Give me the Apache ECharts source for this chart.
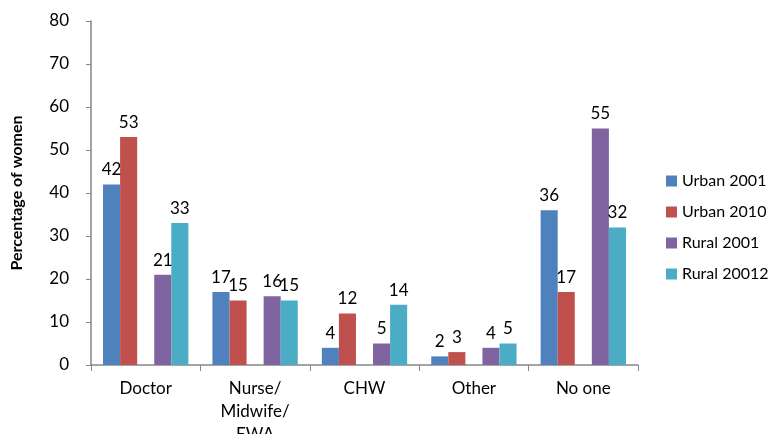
<!DOCTYPE html>
<html>
<head>
<meta charset="utf-8">
<script src="https://cdn.jsdelivr.net/npm/echarts@6/dist/echarts.min.js"></script>
<style>
html, body { margin: 0; padding: 0; background: #fff; overflow: hidden; }
#chart { width: 769px; height: 434px; }
</style>
</head>
<body>
<div id="chart"></div>
<script>
// categories and values
var categories = ['Doctor', 'Nurse/\nMidwife/\nEWA', 'CHW', 'Other', 'No one'];
var urban2001 = [42, 17, 4, 2, 36];
var urban2010 = [53, 15, 12, 3, 17];
var rural2001 = [21, 16, 5, 4, 55];
var rural20012 = [33, 15, 14, 5, 32];
var yTicks = [0, 10, 20, 30, 40, 50, 60, 70, 80];

var font = 'Lato';
var axisColor = '#868686';

var myChart = echarts.init(document.getElementById('chart'));

function barSeries(name, data, color) {
    return {
        name: name,
        type: 'bar',
        data: data,
        barGap: '0%',
        barCategoryGap: '22%',
        itemStyle: { color: color },
        label: {
            show: true,
            position: 'top',
            distance: 6,
            color: '#000',
            fontFamily: font,
            fontSize: 17
        }
    };
}

var option = {
    animation: false,
    textStyle: { fontFamily: font },
    grid: { left: 91, right: 131, top: 21, bottom: 69, containLabel: false, outerBoundsMode: 'none' },
    legend: {
        orient: 'vertical',
        left: 661,
        top: 168,
        itemWidth: 11,
        itemHeight: 11,
        itemGap: 15,
        icon: 'rect',
        data: ['Urban 2001', 'Urban 2010', 'Rural 2001', 'Rural 20012'],
        textStyle: { fontFamily: font, fontSize: 16, color: '#000' }
    },
    xAxis: {
        type: 'category',
        data: categories,
        axisLine: { lineStyle: { color: axisColor, width: 1.5 } },
        axisTick: { show: true, length: 6, lineStyle: { color: axisColor } },
        axisLabel: {
            color: '#000',
            fontFamily: font,
            fontSize: 17,
            margin: 12,
            lineHeight: 23,
            interval: 0,
            hideOverlap: false
        }
    },
    yAxis: {
        type: 'value',
        min: yTicks[0],
        max: yTicks[yTicks.length - 1],
        interval: 10,
        name: 'Percentage of women',
        nameLocation: 'middle',
        nameGap: 66,
        nameTextStyle: { fontFamily: font, fontSize: 16, fontWeight: 'bold', color: '#000' },
        axisLine: { show: true, lineStyle: { color: axisColor, width: 1.5 } },
        axisTick: { show: true, length: 5, lineStyle: { color: axisColor } },
        splitLine: { show: false },
        axisLabel: { color: '#000', fontFamily: font, fontSize: 17, margin: 22 }
    },
    series: [
        barSeries('Urban 2001', urban2001, '#4F81BD'),
        barSeries('Urban 2010', urban2010, '#C0504D'),
        // empty series that leaves the gap between urban and rural bars
        { name: 'gap', type: 'bar', data: [], barGap: '0%', barCategoryGap: '22%' },
        barSeries('Rural 2001', rural2001, '#8064A2'),
        barSeries('Rural 20012', rural20012, '#4BACC6')
    ]
};

myChart.setOption(option);
</script>
</body>
</html>
